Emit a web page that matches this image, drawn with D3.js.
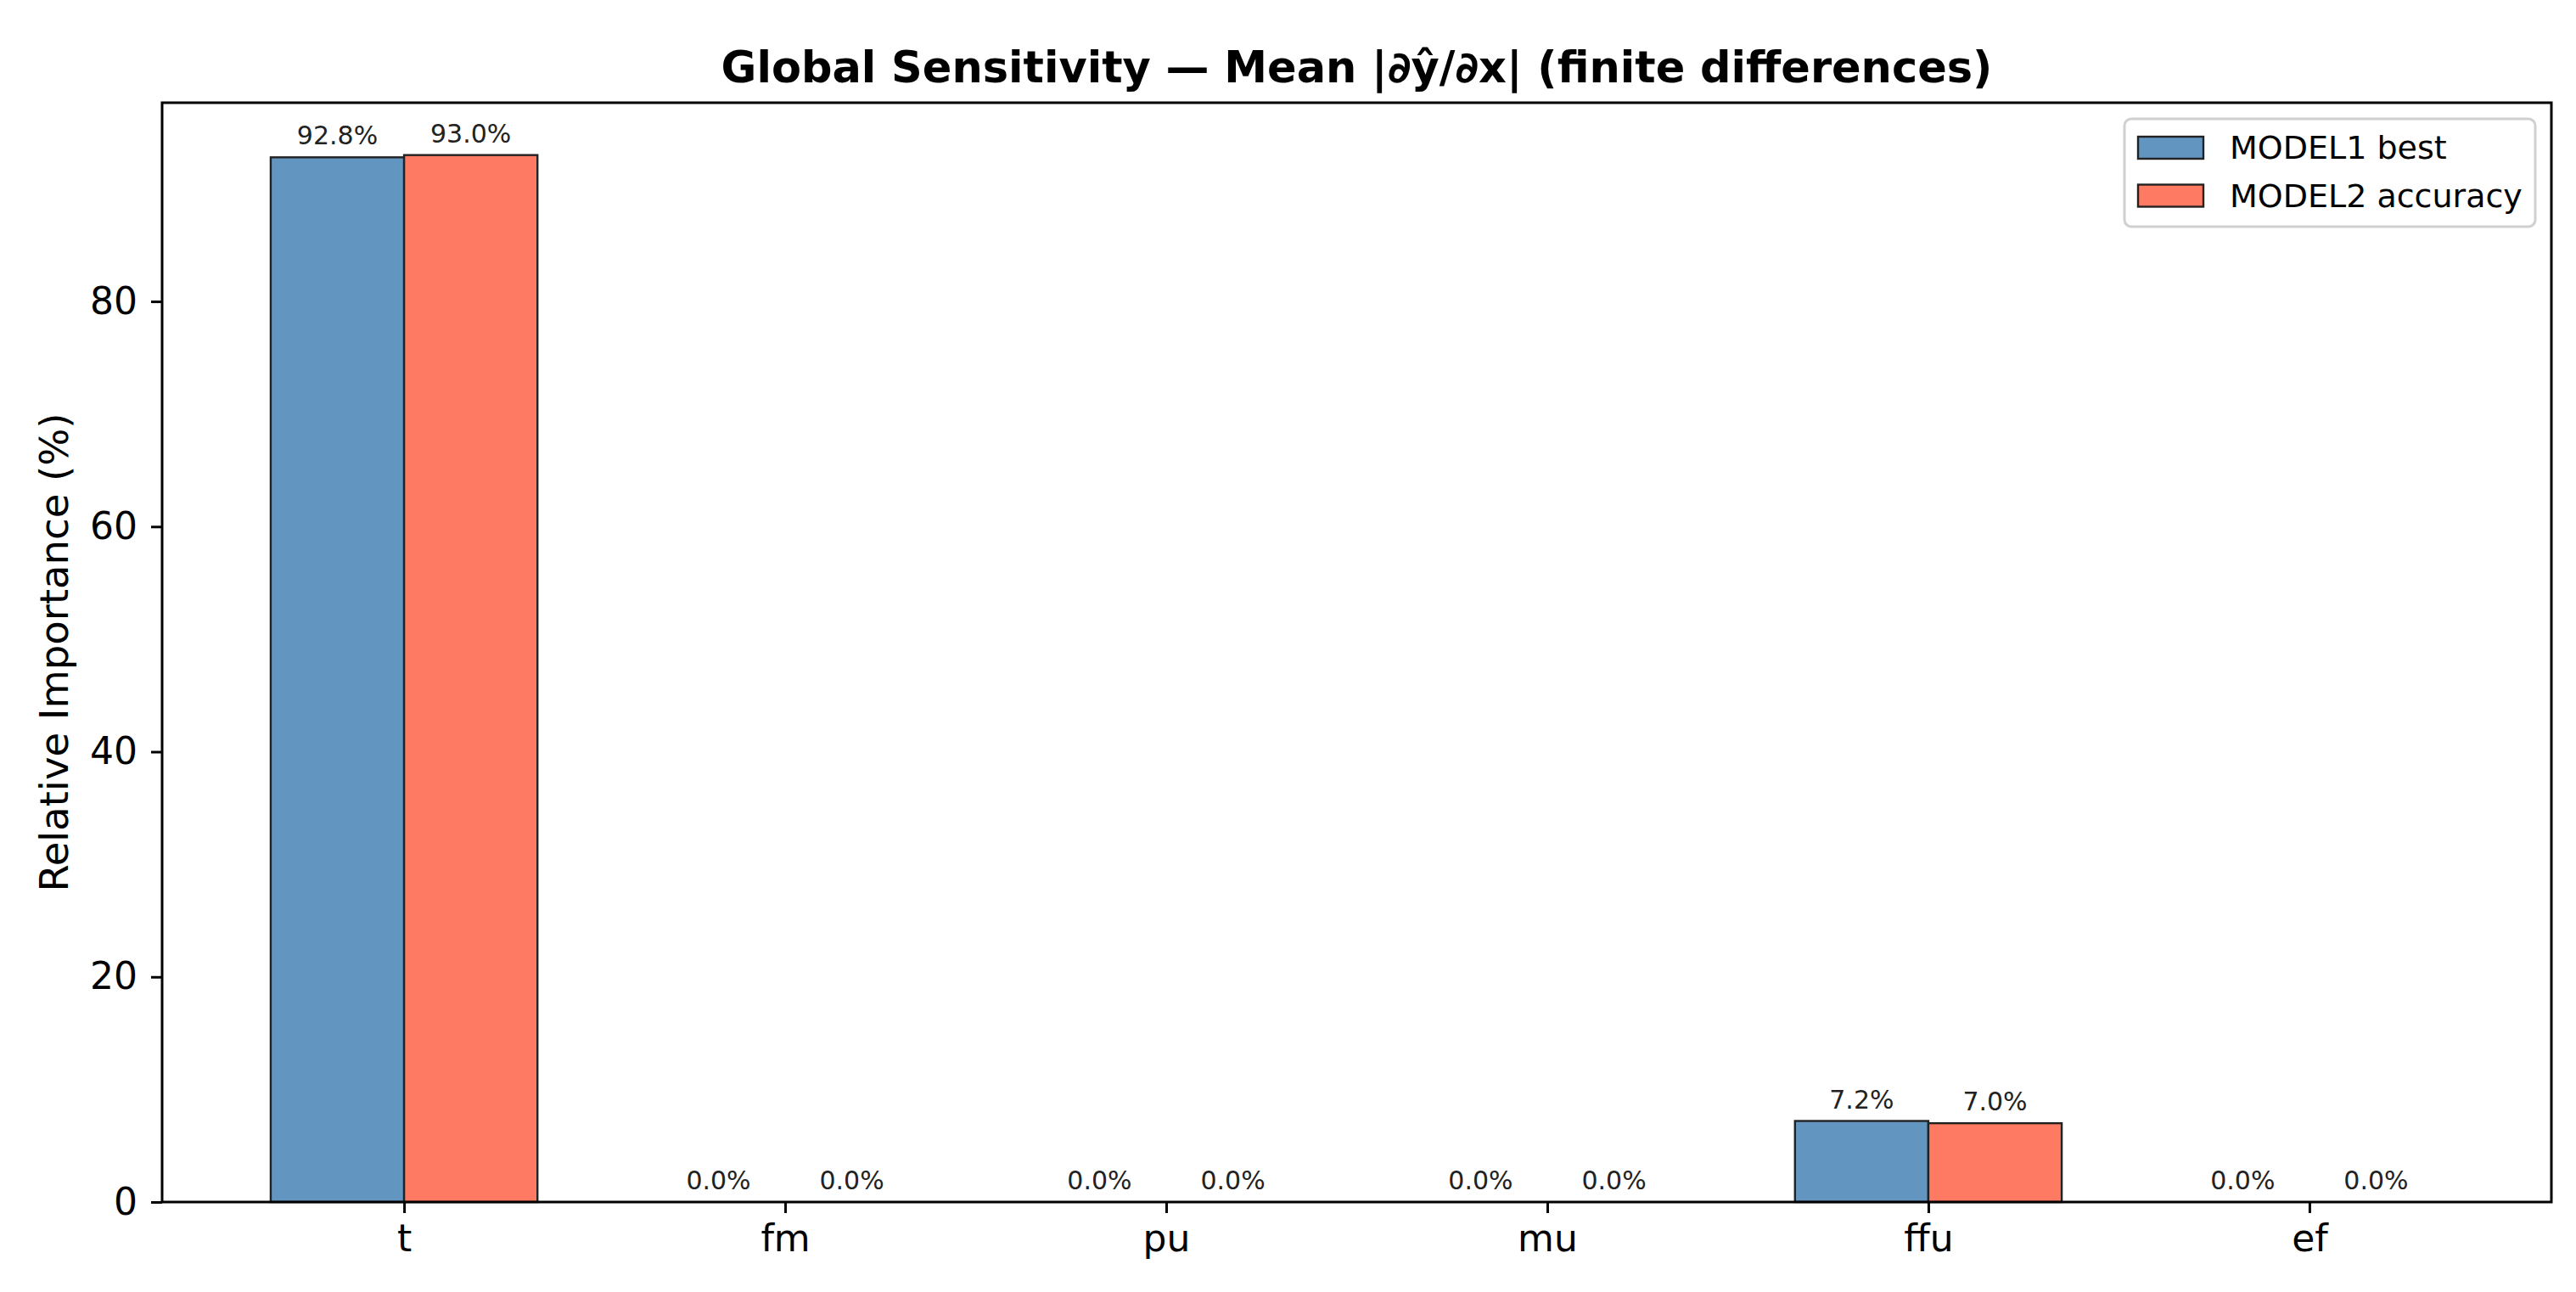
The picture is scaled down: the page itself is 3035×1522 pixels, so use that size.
<!DOCTYPE html>
<html>
<head>
<meta charset="utf-8">
<script src="https://cdn.jsdelivr.net/npm/d3@7"></script>
<style>
  html, body { margin: 0; padding: 0; background: #fff; }
  svg { display: block; font-family: "DejaVu Sans", sans-serif; }
</style>
</head>
<body>
<div id="chart"></div>
<script>
const categories = ["t", "fm", "pu", "mu", "ffu", "ef"];
const model1Values = [92.8, 0.0, 0.0, 0.0, 7.2, 0.0];
const model2Values = [93.0, 0.0, 0.0, 0.0, 7.0, 0.0];
const seriesNames = ["MODEL1 best", "MODEL2 accuracy"];
const yTicks = [0, 20, 40, 60, 80];
const titleText = "Global Sensitivity \u2014 Mean |\u2202\u0177/\u2202x| (finite differences)";
const yLabelText = "Relative Importance (%)";

const W = 3035, H = 1522;
const plot = { left: 191, right: 3006, top: 121, bottom: 1416 };
const barW = 0.35;
const colors = ["rgb(98,149,191)", "rgb(255,122,99)"];

const svg = d3.select("#chart").append("svg")
  .attr("width", W).attr("height", H);
svg.append("rect").attr("width", W).attr("height", H).attr("fill", "#fff");

const n = categories.length;
const xMin = -barW - 0.05 * (n - 1 + 2 * barW);
const xMax = (n - 1) + barW + 0.05 * (n - 1 + 2 * barW);
const x = d3.scaleLinear().domain([xMin, xMax]).range([plot.left, plot.right]);
const yMax = d3.max(model1Values.concat(model2Values)) * 1.05;
const y = d3.scaleLinear().domain([0, yMax]).range([plot.bottom, plot.top]);

const series = [model1Values, model2Values];
const offsets = [-barW / 2, barW / 2];

// bars
series.forEach((vals, s) => {
  svg.append("g").selectAll("rect").data(vals).join("rect")
    .attr("x", (d, i) => x(i + offsets[s] - barW / 2))
    .attr("width", x(barW) - x(0))
    .attr("y", d => y(d))
    .attr("height", d => y(0) - y(d))
    .attr("fill", colors[s])
    .attr("stroke", d => d > 0 ? "#222" : "none")
    .attr("stroke-width", 2.4);
});

// value labels
series.forEach((vals, s) => {
  svg.append("g").selectAll("text").data(vals).join("text")
    .attr("x", (d, i) => x(i + offsets[s]))
    .attr("y", d => y(d) - 15)
    .attr("text-anchor", "middle")
    .attr("font-size", 30)
    .attr("fill", "#222")
    .text(d => d.toFixed(1) + "%");
});

// axes
const xAxis = d3.axisBottom(x)
  .tickValues(d3.range(n))
  .tickFormat(i => categories[i])
  .tickSize(13).tickPadding(14).tickSizeOuter(0);
const gx = svg.append("g").attr("transform", `translate(0,${plot.bottom})`).call(xAxis);
gx.select(".domain").remove();
gx.selectAll("line").attr("stroke", "#000").attr("stroke-width", 3);
gx.selectAll("text").attr("font-size", 44).attr("fill", "#000")
  .attr("font-family", "DejaVu Sans, sans-serif");

const yAxis = d3.axisLeft(y).tickValues(yTicks).tickFormat(d3.format("d"))
  .tickSize(13).tickPadding(16).tickSizeOuter(0);
const gy = svg.append("g").attr("transform", `translate(${plot.left},0)`).call(yAxis);
gy.select(".domain").remove();
gy.selectAll("line").attr("stroke", "#000").attr("stroke-width", 3);
gy.selectAll("text").attr("font-size", 44).attr("fill", "#000")
  .attr("font-family", "DejaVu Sans, sans-serif");

// frame
svg.append("rect")
  .attr("x", plot.left).attr("y", plot.top)
  .attr("width", plot.right - plot.left).attr("height", plot.bottom - plot.top)
  .attr("fill", "none").attr("stroke", "#000").attr("stroke-width", 3);

// title
svg.append("text")
  .attr("x", (plot.left + plot.right) / 2).attr("y", 97)
  .attr("text-anchor", "middle").attr("font-size", 51).attr("font-weight", "bold")
  .attr("fill", "#000").text(titleText);

// y label
svg.append("text")
  .attr("transform", `translate(64,${(plot.top + plot.bottom) / 2}) rotate(-90)`)
  .attr("text-anchor", "middle").attr("dominant-baseline", "central")
  .attr("font-size", 46.5).attr("fill", "#000").text(yLabelText);

// legend
const lg = svg.append("g");
lg.append("rect")
  .attr("x", 2503).attr("y", 140).attr("width", 484).attr("height", 127)
  .attr("rx", 8).attr("ry", 8)
  .attr("fill", "rgba(255,255,255,0.8)").attr("stroke", "#d0d0d0").attr("stroke-width", 3);
seriesNames.forEach((name, s) => {
  const top = 161 + s * 56.5;
  lg.append("rect").attr("x", 2519).attr("y", top).attr("width", 77).attr("height", 26)
    .attr("fill", colors[s]).attr("stroke", "#222").attr("stroke-width", 2.4);
  lg.append("text").attr("x", 2627).attr("y", top + 26)
    .attr("font-size", 38).attr("fill", "#000").text(name);
});
</script>
</body>
</html>
